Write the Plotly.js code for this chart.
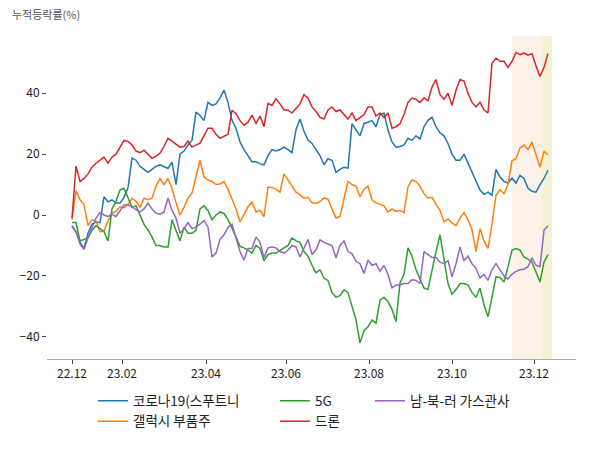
<!DOCTYPE html>
<html>
<head>
<meta charset="utf-8">
<script src="https://cdn.plot.ly/plotly-3.0.1.min.js"></script>
<style>html,body{margin:0;padding:0;background:#fff;}#chart{width:600px;height:450px;}</style>
</head>
<body>
<div id="chart"></div>
<script>
// Trading-day index of tick labels and the labels themselves
const tickIdx = [0, 25, 67, 107, 148.5, 190, 231];
const tickLabels = ["22.12", "23.02", "23.04", "23.06", "23.08", "23.10", "23.12"];

// Series names
const names = ["코로나19(스푸트니", "갤럭시 부품주", "5G", "드론", "남-북-러 가스관사"];

// Cumulative change (%), sampled every 2 trading days
const covid = [
  -3.5, -5.5, -9, -11, -6, -3, -2.3, -2.5, 6, 4.3,
  5, 4, 3.9, 5.8, 8.9, 18.7, 18, 16, 15, 14,
  15, 16, 16.5, 16, 15.3, 17.4, 10, 20, 21, 23,
  24.5, 33.8, 32.7, 31, 37, 36, 36.5, 38.5, 41, 37,
  31.1, 28.5, 24, 21.5, 19.5, 17.5, 17.5, 16.8, 16.5, 19.5,
  21.5, 21, 21.5, 22.3, 21.5, 20.5, 28, 31.5, 27.5, 24.6,
  23.5, 21.5, 19.5, 16.5, 18.5, 18, 14, 15, 15.7, 15.4,
  30, 28, 26, 30, 30.5, 31, 29, 33, 33.5, 27.9,
  24, 22.3, 22.5, 23, 25.2, 24.5, 26, 25, 29, 31.1,
  32.1, 29, 27, 26, 23.5, 20, 18, 18, 20, 17,
  13.8, 10.8, 8.2, 6.8, 7.5, 6.5, 15, 12.5, 11, 10.5,
  12.1, 10.5, 13, 12, 8.8, 7.8, 7.5, 10, 12, 14.7
];
const galaxy = [
  -1.5, 8, 5, 3.5, -3.5, -1.6, -2, -5.5, -5.3, -2,
  0.6, 1.2, 2.7, 2.3, 3.5, 5.5, 4.5, 2.5, 5.5, 5,
  5.5, 9.5, 12, 10, 12, 8.8, 4, 0, 2.5, 5.5,
  7.2, 13, 18, 12.5, 11.5, 11, 10, 10.2, 11, 8.5,
  5.5, 2, -2.3, 0, 2.7, 4.3, 1, 1.5, -0.5, 9.2,
  9, 8.5, 7.5, 13.5, 11.5, 9.5, 7.5, 6.6, 5.5, 5.8,
  4, 3.8, 4.5, 5.6, 5.2, 2, -1, -0.5, 5, 11,
  10, 9.5, 6, 8.5, 9.5, 4.9, 4, 3.5, 3, 1,
  2, 1.2, 1.5, 0.8, 9.2, 11.5, 11, 9.5, 7, 5.5,
  5.8, 3.5, 1.5, -2.2, -1.3, -2.6, -3.5, -1, 0.8, -1.5,
  -4.9, -12, -4.5, -8.5, -11, -3, 6.5, 8.3, 7, 10,
  17.8, 18.5, 22, 23, 21.5, 24, 20, 15.7, 21, 19.7
];
const fiveG = [
  -2.5, -2.5, -8.5, -8, -7.5, -5, -3.5, -4.5, -5.5, -8.5,
  2, 4.5, 8.2, 8.8, 5.5, 2.5, 3, 0, -3, -5,
  -7.2, -10, -10, -10.5, -10.5, -1.6, -4.9, -8.5, -4, -6,
  -6, -5, 2, 3, 1.5, -1.6, 0, 1, 0.5, -1.5,
  -4.3, -7.5, -10.3, -10.8, -11.5, -12.5, -10, -11, -15, -13,
  -12.5, -12.5, -11.5, -10.8, -10, -7.5, -8.5, -9, -12, -13.5,
  -16.5, -19, -18, -20.8, -21.5, -25.5, -27, -26.5, -24.6, -25.5,
  -30, -34.5, -42, -38, -36.7, -34.5, -35.5, -28, -27, -28.5,
  -31, -35, -22.3, -19.5, -10.8, -13.5, -18, -21.3, -24, -24.5,
  -18, -12, -6.5, -15, -22.5, -26, -24.5, -22.5, -22.5, -23,
  -25.5, -27, -24, -29.5, -33.4, -27, -20.3, -20.5, -22, -17,
  -11.5, -11, -11.5, -13.8, -14.5, -15.5, -18.5, -22, -15.5, -13
];
const drone = [
  -1, 16, 11, 12, 13.5, 15.7, 17, 18, 19, 17,
  19, 20, 22.3, 24.5, 24.2, 23, 21, 20.5, 21.3, 20,
  18.6, 19.3, 20.3, 22.5, 25.2, 24.3, 23.3, 22.3, 22.5, 24.3,
  22.3, 23, 23.6, 26, 28.5, 28.5, 26.5, 25.2, 25.8, 26.5,
  34.4, 33.3, 31, 29.5, 30.5, 32.8, 30, 32.5, 29, 36.7,
  36, 38.2, 36.5, 34.5, 34.5, 33.5, 35, 36.5, 39.5, 38.4,
  35.5, 34, 32.1, 31.5, 34.5, 35.5, 34, 34.5, 33, 31.5,
  33.5, 31, 32, 33, 35.5, 35.5, 32.5, 33.5, 32, 33.5,
  28.5, 29, 30, 33, 37, 38.4, 38, 37, 38.5, 37.5,
  42, 44.5, 39.5, 38, 40, 36, 41, 44.5, 44, 40,
  37, 35.5, 37, 34.5, 33.5, 49.8, 51.5, 50.5, 50.5, 48.5,
  50.5, 53.4, 52.7, 53.2, 52.5, 53, 49, 45.5, 48.5, 53
];
const pipeline = [
  -3.9, -5.5, -9.5, -11.3, -7.5, -4, -1, 0.8, 0, -0.5,
  0.2, -0.5, 1.5, 3.3, 3.3, 2.7, 1.8, 1, 2, 3.9,
  2, 0.6, 0.3, 1, 5.6, 1.6, -1, -6, -4.5, -2.5,
  -4.5, -4, -3, -1.8, -4, -13.8, -12.5, -8, -6.5, -4,
  -3, -7.5, -12, -14.8, -11, -11, -7.2, -9, -14, -10.8,
  -10.5, -10.8, -12, -12.5, -11.5, -10, -10.5, -13.8, -11, -8,
  -13, -11.5, -8.2, -9, -9.5, -10, -14.1, -10, -8.5, -12,
  -12.7, -15.2, -16, -19.2, -14.8, -16.5, -16, -18.5, -16.5, -19.5,
  -23.9, -23, -23, -22.5, -22.5, -21.3, -21.5, -22.5, -12, -13,
  -14, -14, -15.5, -16, -15, -20.3, -16, -10.5, -15, -13.5,
  -16, -17.5, -20.7, -19.5, -21.5, -18, -16, -18, -20, -21,
  -19.5, -18.5, -18, -17.8, -17, -14.1, -16.5, -17, -5, -3.5
];

// Highlighted periods (trading-day index)
const spanStart = [220, 235];
const spanEnd = [235, 240];

const colors = ["#1f77b4", "#ff7f0e", "#2ca02c", "#d62728", "#9467bd"];
const seriesList = [covid, galaxy, fiveG, drone, pipeline];
const legendOf = ["legend", "legend", "legend2", "legend2", "legend3"];
const spanColors = ["rgba(240,150,80,0.12)", "rgba(205,185,40,0.20)"];

const FONT = "'Noto Sans CJK KR', 'Noto Sans', sans-serif";

const traces = seriesList.map((vals, s) => ({
  type: "scatter",
  mode: "lines",
  name: names[s],
  x: vals.map((_, i) => i * 2),
  y: vals,
  line: {color: colors[s], width: 1.5},
  legend: legendOf[s],
  legendgroup: "g" + s,
  hoverinfo: "skip"
}));

const shapes = spanStart.map((x0, k) => ({
  type: "rect", xref: "x", yref: "paper", x0: x0, x1: spanEnd[k], y0: 0, y1: 1,
  fillcolor: spanColors[k], line: {width: 0}, layer: "below"
}));

const legendBase = {
  y: -0.0817, yanchor: "top", xanchor: "left",
  bgcolor: "rgba(0,0,0,0)", borderwidth: 0,
  font: {family: FONT, size: 13.5, color: "#222"},
  traceorder: "grouped", tracegroupgap: 0
};

const layout = {
  width: 600, height: 450,
  margin: {l: 47, r: 24, t: 36, b: 91},
  paper_bgcolor: "#fff", plot_bgcolor: "#fff",
  font: {family: FONT, size: 12, color: "#222"},
  title: {
    text: "누적등락률(%)", xref: "container", yref: "container",
    x: 12 / 600, xanchor: "left", y: 1 - 15 / 450, yanchor: "middle",
    font: {family: FONT, size: 11, color: "#555"}
  },
  showlegend: true,
  legend: Object.assign({x: 0.087}, legendBase),
  legend2: Object.assign({x: 0.431}, legendBase),
  legend3: Object.assign({x: 0.6106}, legendBase),
  xaxis: {
    range: [-12.5, 252], tickmode: "array", tickvals: tickIdx, ticktext: tickLabels,
    showgrid: false, zeroline: false, showline: true, linecolor: "#aaaaaa", linewidth: 1,
    ticks: "outside", ticklen: 4, tickcolor: "#444", tickwidth: 1,
    tickfont: {family: FONT, size: 12, color: "#222"}
  },
  yaxis: {
    range: [-47.3, 58.8], tickmode: "array", tickvals: [-40, -20, 0, 20, 40],
    showgrid: false, zeroline: false, showline: false,
    ticks: "outside", ticklen: 4, tickcolor: "#444", tickwidth: 1,
    tickfont: {family: FONT, size: 12, color: "#222"}
  },
  shapes: shapes
};

Plotly.newPlot("chart", traces, layout, {displayModeBar: false, staticPlot: true});
</script>
</body>
</html>
